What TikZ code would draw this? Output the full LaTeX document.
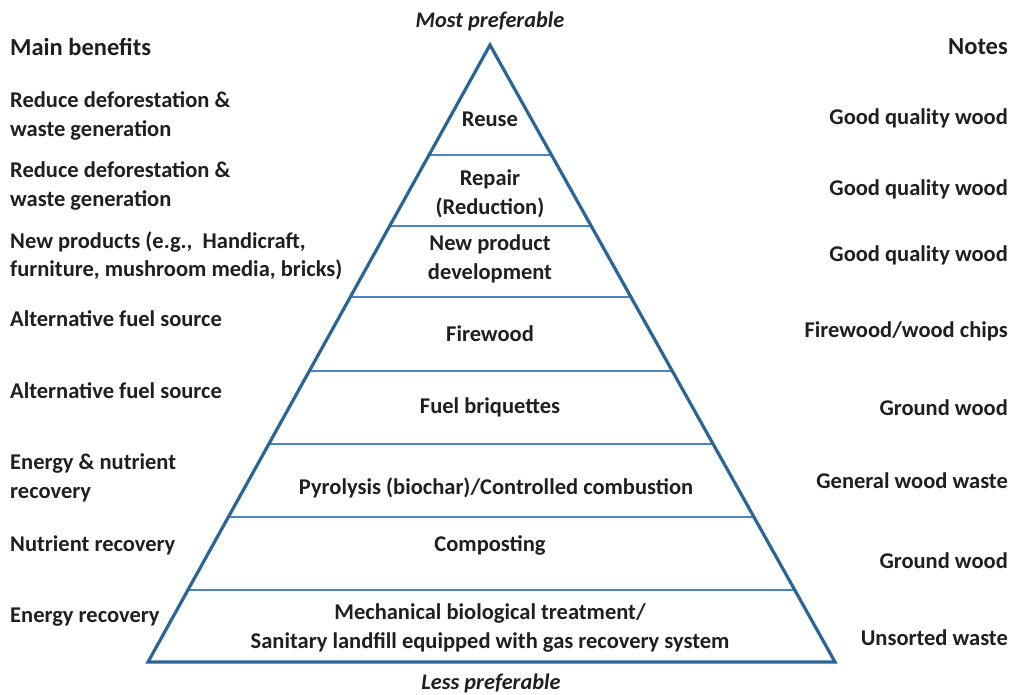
\documentclass[tikz,border=0pt]{standalone}
\usepackage{fontspec}
\setmainfont{Carlito}
\usetikzlibrary{calc}
\definecolor{edge}{HTML}{2B6596}
\definecolor{band}{HTML}{4A84C4}
\begin{document}
\begin{tikzpicture}[x=1pt,y=-1pt,
  txt/.style={font=\fontsize{22.5}{28.5}\selectfont\bfseries, inner sep=0pt, align=center, text=black!88},
  lt/.style={txt, anchor=west, align=left},
  rt/.style={txt, anchor=east, align=right},
  head/.style={font=\fontsize{24.5}{28}\selectfont\bfseries},
  pref/.style={font=\fontsize{22.3}{24}\selectfont\bfseries\itshape, inner sep=0pt, text=black!88},
  outline/.style={draw=edge, line width=3.2pt, line join=miter},
  divider/.style={draw=band, line width=2pt}]
\path[use as bounding box] (0,0) rectangle (1016,695);
\coordinate (A) at (490,45);
\coordinate (L) at (148,662);
\coordinate (R) at (835,662);
\foreach \yy in {155,226,297,371,444,517,590}{
  \draw[divider] ($(A)!{(\yy-45)/617}!(L)$) -- ($(A)!{(\yy-45)/617}!(R)$);
}
\draw[outline] (A) -- (L) -- (R) -- cycle;
% titles
\node[pref] (most) at (490,21) {Most preferable};
\node[pref, anchor=base] (less) at (491,689) {Less preferable};
% centre
\node[txt] (c1) at (490,119) {Reuse};
\node[txt] (c2) at (490,194) {Repair\\(Reduction)};
\node[txt] (c3) at (490,259) {New product\\development};
\node[txt] (c4) at (490,334) {Firewood};
\node[txt] (c5) at (490,407) {Fuel briquettes};
\node[txt] (c6) at (496,488) {Pyrolysis (biochar)/Controlled combustion};
\node[txt] (c7) at (490,545) {Composting};
\node[txt] (c8) at (490,628) {Mechanical biological treatment/\\Sanitary landfill equipped with gas recovery system};
% left
\node[lt,head] (l0) at (10,47) {Main benefits};
\node[lt] (l1) at (10,116) {Reduce deforestation \&\\waste generation};
\node[lt] (l2) at (10,186) {Reduce deforestation \&\\waste generation};
\node[lt] (l3) at (10,256) {New products (e.g.,\ \ Handicraft,\\furniture, mushroom media, bricks)};
\node[lt] (l4) at (10,319) {Alternative fuel source};
\node[lt] (l5) at (10,391) {Alternative fuel source};
\node[lt] (l6) at (10,478) {Energy \& nutrient\\recovery};
\node[lt] (l7) at (10,545) {Nutrient recovery};
\node[lt] (l8) at (10,617) {Energy recovery};
% right
\node[rt,head] (r0) at (1008,47) {Notes};
\node[rt] (r1) at (1008,118) {Good quality wood};
\node[rt] (r2) at (1008,189) {Good quality wood};
\node[rt] (r3) at (1008,255) {Good quality wood};
\node[rt] (r4) at (1008,331) {Firewood/wood chips};
\node[rt] (r5) at (1008,408) {Ground wood};
\node[rt] (r6) at (1008,481) {General wood waste};
\node[rt] (r7) at (1008,561) {Ground wood};
\node[rt] (r8) at (1008,638) {Unsorted waste};
\end{tikzpicture}
\end{document}
